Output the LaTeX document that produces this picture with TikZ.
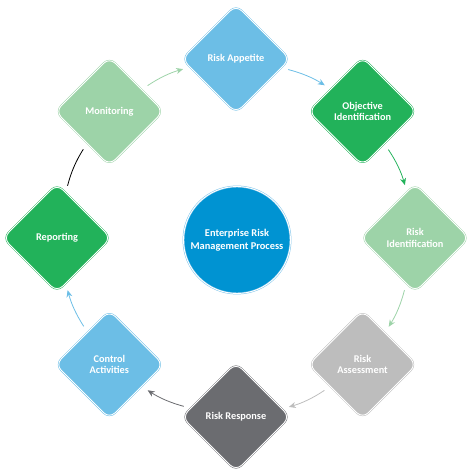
\documentclass[tikz,border=0pt]{standalone}
\usepackage{fontspec}
\setmainfont{Carlito}
\usetikzlibrary{shapes.geometric,arrows.meta}
\definecolor{lblue}{HTML}{6CBEE6}
\definecolor{dgreen}{HTML}{22B25A}
\definecolor{lgreen}{HTML}{9DD3A8}
\definecolor{lgrey}{HTML}{BDBDBD}
\definecolor{dgrey}{HTML}{6B6C70}
\definecolor{cblue}{HTML}{0093D2}
\definecolor{cring}{HTML}{7FC4EA}
\begin{document}
\begin{tikzpicture}[x=1pt,y=1pt,
  box/.style={diamond, aspect=1, minimum width=108pt, minimum height=108pt, inner sep=0pt,
    rounded corners=8pt, fill=#1, draw=#1, double=white, double distance=0.9pt, line width=0.5pt,
    text=white, font=\bfseries\fontsize{10.3}{11.5}\selectfont, align=center},
  hub/.style={circle, minimum size=107pt, inner sep=0pt, fill=cblue, draw=cring, double=white,
    double distance=0.9pt, line width=0.5pt, text=white,
    font=\bfseries\fontsize{10.4}{12.6}\selectfont, align=center},
  link/.style={draw=#1, line width=0.8pt, bend left=9, shorten <=7pt, shorten >=7pt},
  conn/.style={link=#1, -{Stealth[length=7pt,width=6pt]}},
]
\useasboundingbox (0,0) rectangle (472,475);
\node[box=lblue]  (ra)  at (236,416)   {Risk Appetite};
\node[box=dgreen] (oi)  at (362.6,363.6) {Objective\\Identification};
\node[box=lgreen] (ri)  at (415,237)   {Risk\\Identification};
\node[box=lgrey]  (ras) at (362.6,110.4) {Risk\\Assessment};
\node[box=dgrey]  (rr)  at (236,58)    {Risk Response};
\node[box=lblue]  (ca)  at (109.4,110.4) {Control\\Activities};
\node[box=dgreen] (rep) at (57,237)    {Reporting};
\node[box=lgreen] (mon) at (109.4,363.6) {Monitoring};
\node[hub] (hub) at (237,235) {Enterprise Risk\\Management Process};

\draw[conn=lgreen] (mon.34)   to (ra.190.5);
\draw[conn=lblue]  (ra.-11)   to (oi.145.5);
\draw[conn=dgreen] (oi.-56)   to (ri.100.5);
\draw[conn=lgreen] (ri.-101)  to (ras.55.5);
\draw[conn=lgrey]  (ras.-146) to (rr.10.5);
\draw[conn=dgrey]  (rr.169)   to (ca.-34.5);
\draw[conn=lblue]  (ca.124)   to (rep.-79.5);
\draw[link=black]  (rep.79)   to (mon.235.5);
\end{tikzpicture}
\end{document}
